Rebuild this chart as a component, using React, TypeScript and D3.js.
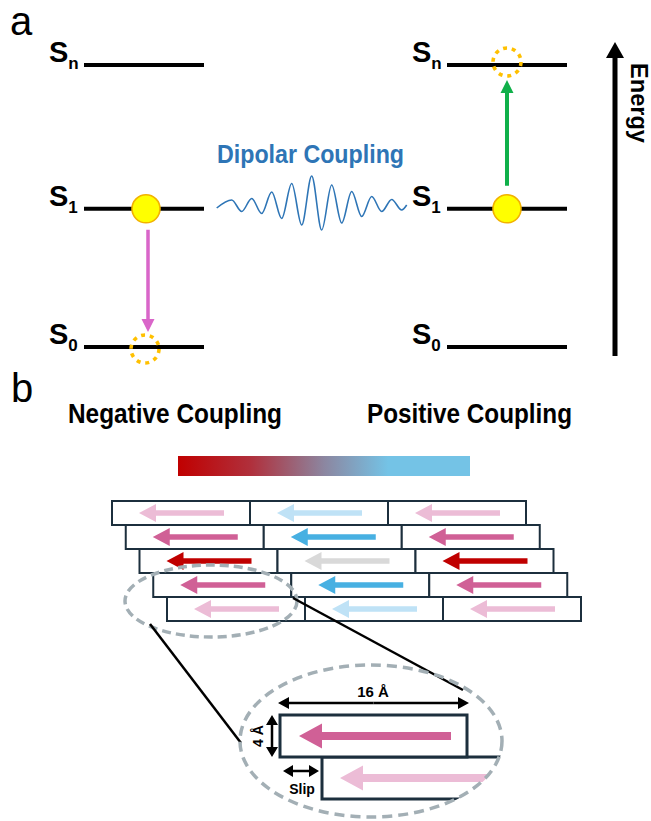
import React from "react";
import * as d3 from "d3";

// ---------- data ----------
const levelSubs = ["0", "1", "n"];
const levelValues = [0, 0.98, 2];
const leftTransition = [1, 0]; // S1 -> S0 (emission)
const rightTransition = [1, 2]; // S1 -> Sn (absorption)

const waveT = [-0.5, 1, 2, 3, 4, 5, 6, 7, 8, 9, 10, 11, 12, 13, 14, 15, 16, 17, 18, 18.5];
const waveA = [-4, 4, -7.5, 5.5, -9.5, 12, -14.5, 20.5, -21, 28, -26, 19, -19, 12.5, -12.5, 7.5, -7.5, 4.5, -6, -1];

const colorStopOffsets = [0, 0.25, 0.5, 0.72, 1];
const colorStopColors = ["#c00000", "#b0303c", "#8c86a0", "#74c3e6", "#74c3e6"];

const gridRows = [0, 1, 2, 3, 4];
const gridCols = [0, 1, 2];
const couplingGrid = [
  ["weakNeg", "weakPos", "weakNeg"],
  ["medNeg", "medPos", "medNeg"],
  ["strongNeg", "zero", "strongNeg"],
  ["medNeg", "medPos", "medNeg"],
  ["weakNeg", "weakPos", "weakNeg"],
];
const couplingColors: Record<string, string> = {
  weakNeg: "#ecbcd6",
  medNeg: "#d06096",
  strongNeg: "#c00000",
  zero: "#d9d9d9",
  medPos: "#47b0e2",
  weakPos: "#bfe2f6",
};

const dimLabels = ["16 Å", "4 Å", "Slip"];
const texts = ["Dipolar Coupling", "Negative Coupling", "Positive Coupling", "Energy"];

// ---------- helpers ----------
type P = [number, number];
function arrowPts(x1: number, y1: number, x2: number, y2: number, w: number, hw: number, hl: number): P[] {
  const dx = x2 - x1, dy = y2 - y1, L = Math.hypot(dx, dy);
  const ux = dx / L, uy = dy / L, nx = -uy, ny = ux;
  const bx = x2 - ux * hl, by = y2 - uy * hl;
  return [
    [x1 + (nx * w) / 2, y1 + (ny * w) / 2],
    [bx + (nx * w) / 2, by + (ny * w) / 2],
    [bx + (nx * hw) / 2, by + (ny * hw) / 2],
    [x2, y2],
    [bx - (nx * hw) / 2, by - (ny * hw) / 2],
    [bx - (nx * w) / 2, by - (ny * w) / 2],
    [x1 - (nx * w) / 2, y1 - (ny * w) / 2],
  ];
}
const poly = d3.line<P>().curve(d3.curveLinearClosed);
function Arrow(p: { x1: number; y1: number; x2: number; y2: number; w: number; hw: number; hl: number; fill: string }) {
  return <path d={poly(arrowPts(p.x1, p.y1, p.x2, p.y2, p.w, p.hw, p.hl)) || ""} fill={p.fill} />;
}
function DoubleArrow(p: { x1: number; y1: number; x2: number; y2: number; w: number; hw: number; hl: number }) {
  const mx = (p.x1 + p.x2) / 2, my = (p.y1 + p.y2) / 2;
  return (
    <g>
      <Arrow x1={mx} y1={my} x2={p.x1} y2={p.y1} w={p.w} hw={p.hw} hl={p.hl} fill="#000" />
      <Arrow x1={mx} y1={my} x2={p.x2} y2={p.y2} w={p.w} hw={p.hw} hl={p.hl} fill="#000" />
    </g>
  );
}

const FONT = "'Liberation Sans', Arial, Helvetica, sans-serif";
const W = 651, H = 821;

export default function App() {
  const yLevel = d3.scaleLinear().domain([0, 2]).range([347, 65]);
  const diagrams = [
    { x0: 84, x1: 204, labelX: 49, trans: leftTransition, color: "#d966c9", cx: 146 },
    { x0: 447, x1: 567, labelX: 412, trans: rightTransition, color: "#10b04a", cx: 507 },
  ];

  const xWave = d3.scaleLinear().domain([-0.5, 18.5]).range([216.7, 406.7]);
  const yWave = d3.scaleLinear().domain([-30, 30]).range([234, 174]);
  const waveLine = d3
    .line<number>()
    .x((_, i) => xWave(waveT[i]))
    .y((a) => yWave(a))
    .curve(d3.curveMonotoneX);

  // grid scales
  const boxW = 138, boxH = 24;
  const slip = 13.75;
  const xGrid = d3.scaleLinear().domain([0, 1]).range([112, 112 + boxW]);
  const yGrid = d3.scaleLinear().domain([0, 1]).range([501, 501 + boxH]);

  // zoom box
  const zb = { x: 280, y: 715, w: 187, h: 42, slip: 42 };
  const bigE = { cx: 371, cy: 741, rx: 131, ry: 76 };

  return (
    <svg width={W} height={H} style={{ position: "absolute", left: 0, top: 0, display: "block", background: "#fff" }} fontFamily={FONT}>
      <defs>
        <linearGradient id="cbar" x1="0" x2="1" y1="0" y2="0">
          {colorStopOffsets.map((o, i) => (
            <stop key={i} offset={o} stopColor={colorStopColors[i]} />
          ))}
        </linearGradient>
        <clipPath id="bigclip">
          <ellipse cx={bigE.cx} cy={bigE.cy} rx={bigE.rx + 1} ry={bigE.ry + 1} />
        </clipPath>
      </defs>

      {/* panel letters */}
      <text x={10} y={35} fontSize={40} fill="#000">a</text>
      <text x={11} y={402} fontSize={40} fill="#000">b</text>

      {/* energy level diagrams */}
      {diagrams.map((d, di) => (
        <g key={di}>
          {levelValues.map((v, li) => (
            <g key={li}>
              <line x1={d.x0} x2={d.x1} y1={yLevel(v)} y2={yLevel(v)} stroke="#000" strokeWidth={4} />
              <text x={d.labelX} y={yLevel(v) - 3} fontSize={29} fontWeight="bold" fill="#000">
                S
                <tspan fontSize={17} dy={7}>{levelSubs[li]}</tspan>
              </text>
            </g>
          ))}
        </g>
      ))}

      {/* transitions */}
      {diagrams.map((d, di) => {
        const yFrom = yLevel(levelValues[d.trans[0]]);
        const yTo = yLevel(levelValues[d.trans[1]]);
        const down = yTo > yFrom;
        const tailY = down ? yFrom + 21 : yFrom - 23;
        const tipY = down ? yTo - 15 : yTo + 15;
        return (
          <g key={"t" + di}>
            <Arrow x1={d.cx + (down ? 2 : 0)} y1={tailY} x2={d.cx + (down ? 2 : 0)} y2={tipY} w={down ? 3.5 : 4} hw={13} hl={13} fill={d.color} />
            <circle cx={d.cx} cy={yFrom} r={14} fill="#ffff00" stroke="#f2b200" strokeWidth={1.6} />
            <circle cx={d.cx - (down ? 1 : 0)} cy={yTo + (down ? 2 : -3)} r={14} fill="none" stroke="#ffc000" strokeWidth={3.6} strokeDasharray="4 4.8" />
          </g>
        );
      })}

      {/* dipolar coupling */}
      <text x={217} y={163} fontSize={25} textLength={187} lengthAdjust="spacingAndGlyphs" fontWeight="bold" fill="#2e75b6">{texts[0]}</text>
      <path d={waveLine(waveA) || ""} fill="none" stroke="#2e75b6" strokeWidth={1.6} />

      {/* energy arrow */}
      <Arrow x1={615} y1={356} x2={615} y2={42} w={5} hw={18} hl={16} fill="#000" />
      <text transform="translate(631,103) rotate(90)" textAnchor="middle" fontSize={23} textLength={80} lengthAdjust="spacingAndGlyphs" fontWeight="bold" fill="#000">
        {texts[3]}
      </text>

      {/* panel b texts */}
      <text x={68} y={423} fontSize={27} textLength={214} lengthAdjust="spacingAndGlyphs" fontWeight="bold" fill="#000">{texts[1]}</text>
      <text x={367} y={423} fontSize={27} textLength={205} lengthAdjust="spacingAndGlyphs" fontWeight="bold" fill="#000">{texts[2]}</text>
      <rect x={178} y={456} width={292} height={20} fill="url(#cbar)" />

      {/* molecular grid */}
      {gridRows.map((r) =>
        gridCols.map((c) => {
          const x = xGrid(c) + r * slip;
          const y = yGrid(r);
          const cy = y + boxH / 2;
          return (
            <g key={r + "-" + c}>
              <rect x={x} y={y} width={boxW} height={boxH} fill="#fff" stroke="#1c2f3d" strokeWidth={2} />
              <Arrow x1={x + 112} y1={cy} x2={x + 27} y2={cy} w={5.5} hw={18} hl={17} fill={couplingColors[couplingGrid[r][c]]} />
            </g>
          );
        })
      )}

      {/* small dashed ellipse */}
      <ellipse cx={211} cy={601} rx={86} ry={36} fill="none" stroke="#a3afb5" strokeWidth={3.5} strokeDasharray="9 5" />

      {/* connector lines */}
      <line x1={150} y1={624} x2={241} y2={743} stroke="#000" strokeWidth={2.5} />
      <line x1={293} y1={598} x2={463} y2={690} stroke="#000" strokeWidth={2.5} />

      {/* zoomed view */}
      <g clipPath="url(#bigclip)">
        <rect x={zb.x + zb.slip} y={zb.y + zb.h} width={zb.w} height={zb.h} fill="#fff" stroke="#1c2f3d" strokeWidth={3} />
        <Arrow x1={zb.x + zb.slip + 170} y1={zb.y + zb.h * 1.5} x2={zb.x + zb.slip + 18} y2={zb.y + zb.h * 1.5} w={8} hw={25} hl={23} fill={couplingColors.weakNeg} />
      </g>
      <rect x={zb.x} y={zb.y} width={zb.w} height={zb.h} fill="#fff" stroke="#1c2f3d" strokeWidth={3} />
      <Arrow x1={zb.x + 171} y1={zb.y + zb.h / 2} x2={zb.x + 19} y2={zb.y + zb.h / 2} w={8} hw={25} hl={23} fill={couplingColors.medNeg} />

      <ellipse cx={bigE.cx} cy={bigE.cy} rx={bigE.rx} ry={bigE.ry} fill="none" stroke="#a3afb5" strokeWidth={3.5} strokeDasharray="10 6" />

      {/* dimension arrows */}
      <DoubleArrow x1={278} y1={703} x2={469} y2={703} w={2.5} hw={12} hl={11} />
      <text x={373} y={697} textAnchor="middle" fontSize={15} fontWeight="bold">{dimLabels[0]}</text>
      <DoubleArrow x1={272} y1={715} x2={272} y2={757} w={2.5} hw={12} hl={10} />
      <text transform="translate(263,736) rotate(-90)" textAnchor="middle" fontSize={14} fontWeight="bold">{dimLabels[1]}</text>
      <DoubleArrow x1={283} y1={771} x2={319} y2={771} w={2.5} hw={12} hl={10} />
      <text x={302} y={794} textAnchor="middle" fontSize={14} fontWeight="bold">{dimLabels[2]}</text>
    </svg>
  );
}
